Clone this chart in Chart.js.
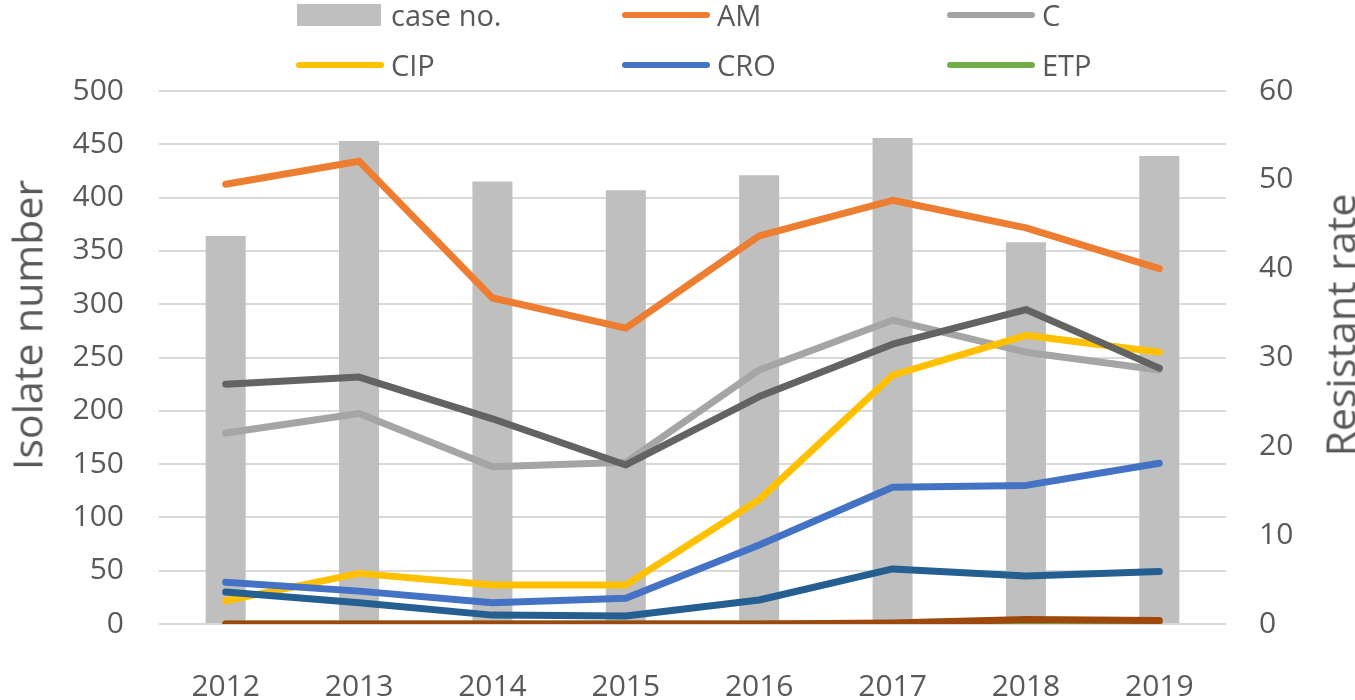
<!DOCTYPE html>
<html>
<head>
<meta charset="utf-8">
<title>Isolate number and resistant rate</title>
<script src="https://cdn.jsdelivr.net/npm/chart.js@4.4.0/dist/chart.umd.min.js"></script>
<style>
  body { margin: 0; background: #fff; overflow: hidden; }
  #wrap { position: relative; width: 1355px; height: 700px; font-family: 'Open Sans', sans-serif; color: #595959; }
  #chart { position: absolute; left: 0; top: 0; }
  .axis-title { position: absolute; font-size: 41px; line-height: 1; white-space: nowrap; transform: translate(-50%, -50%) rotate(-90deg); }
  .lg-text { position: absolute; font-size: 29px; line-height: 1; white-space: nowrap; }
  .lg-swatch { position: absolute; }
</style>
</head>
<body>
<div id="wrap">
  <canvas id="chart" width="1355" height="700"></canvas>
  <div id="legend"></div>
  <div class="axis-title" id="left-title" style="left:27px; top:325px;"></div>
  <div class="axis-title" id="right-title" style="left:1340px; top:325px;"></div>
</div>
<script>
// ---- data ----
const years = ['2012', '2013', '2014', '2015', '2016', '2017', '2018', '2019'];
const caseNo = [364, 453, 415, 407, 421, 456, 358, 439];      // left axis
const amRate = [49.5, 52.1, 36.7, 33.3, 43.7, 47.7, 44.6, 40.0]; // right axis (%)
const cRate = [21.5, 23.7, 17.7, 18.2, 28.6, 34.2, 30.6, 28.6];
const cipRate = [2.6, 5.7, 4.4, 4.4, 14.0, 28.0, 32.5, 30.6];
const croRate = [4.7, 3.7, 2.4, 2.9, 8.9, 15.4, 15.6, 18.1];
const etpRate = [0, 0, 0, 0, 0, 0, 0, 0];
// three more lines drawn in the picture whose legend rows are cut off
const series7Rate = [3.6, 2.4, 1.0, 0.9, 2.7, 6.2, 5.4, 5.9];
const series8Rate = [0, 0, 0, 0, 0, 0.1, 0.5, 0.4];
const series9Rate = [27.0, 27.8, 23.1, 17.9, 25.6, 31.5, 35.4, 28.8];

const leftMax = 500, leftStep = 50;
const rightMax = 60, rightStep = 10;
const leftTitle = 'Isolate number';
const rightTitle = 'Resistant rate';

// line series: label, values, colour, shown in legend
const lineSeries = [
  { label: 'AM', data: amRate, color: '#ED7D31', legend: true },
  { label: 'C', data: cRate, color: '#A5A5A5', legend: true },
  { label: 'CIP', data: cipRate, color: '#FFC000', legend: true },
  { label: 'CRO', data: croRate, color: '#4472C4', legend: true },
  { label: 'ETP', data: etpRate, color: '#70AD47', legend: true },
  { label: 'Series 7', data: series7Rate, color: '#255E91', legend: false },
  { label: 'Series 8', data: series8Rate, color: '#9E480E', legend: false },
  { label: 'Series 9', data: series9Rate, color: '#636363', legend: false }
];
const barColor = '#BFBFBF';
const gridColor = '#D9D9D9';
const textColor = '#595959';

Chart.defaults.font.family = "'Open Sans', sans-serif";
Chart.defaults.color = textColor;

// later series on top, like the spreadsheet
const datasets = [{
  type: 'bar',
  label: 'case no.',
  data: caseNo,
  backgroundColor: barColor,
  yAxisID: 'y',
  barPercentage: 0.3,
  categoryPercentage: 1,
  order: 100
}];
lineSeries.forEach((s, i) => {
  datasets.push({
    type: 'line',
    label: s.label,
    data: s.data,
    borderColor: s.color,
    backgroundColor: s.color,
    borderWidth: 7,
    borderCapStyle: 'round',
    borderJoinStyle: 'round',
    pointRadius: 0,
    tension: 0,
    yAxisID: 'y1',
    order: 50 - i
  });
});

new Chart(document.getElementById('chart'), {
  data: { labels: years, datasets: datasets },
  options: {
    responsive: false,
    animation: false,
    layout: { padding: { top: 91, left: 0, right: 0, bottom: 0 } },
    plugins: { legend: { display: false }, tooltip: { enabled: false } },
    scales: {
      x: {
        grid: { display: false, drawTicks: false },
        border: { display: false },
        ticks: { font: { size: 30 }, color: textColor, padding: 45 },
        afterFit: s => { s.height = 76; }
      },
      y: {
        position: 'left',
        min: 0, max: leftMax,
        grid: { color: gridColor, lineWidth: 2, drawTicks: false },
        border: { display: false },
        ticks: { stepSize: leftStep, font: { size: 30 }, color: textColor, padding: 35 },
        afterFit: s => { s.width = 159; }
      },
      y1: {
        position: 'right',
        min: 0, max: rightMax,
        grid: { display: false, drawTicks: false },
        border: { display: false },
        ticks: { stepSize: rightStep, font: { size: 30 }, color: textColor, padding: 33 },
        afterFit: s => { s.width = 129; }
      }
    }
  }
});

// axis titles
document.getElementById('left-title').textContent = leftTitle;
document.getElementById('right-title').textContent = rightTitle;

// legend: 3 columns x 2 rows
const legendItems = [{ label: 'case no.', color: barColor, box: true }]
  .concat(lineSeries.filter(s => s.legend).map(s => ({ label: s.label, color: s.color, box: false })));
const colX = [296, 622, 947];
const rowY = [15, 65];
const legend = document.getElementById('legend');
legendItems.forEach((item, i) => {
  const cx = colX[i % 3], cy = rowY[Math.floor(i / 3)];
  const sw = document.createElement('div');
  sw.className = 'lg-swatch';
  if (item.box) {
    sw.style.cssText = `left:${cx + 1}px;top:${cy - 11}px;width:84px;height:22px;background:${item.color};`;
  } else {
    sw.style.cssText = `left:${cx}px;top:${cy - 3}px;width:88px;height:6px;border-radius:3px;background:${item.color};`;
  }
  legend.appendChild(sw);
  const tx = document.createElement('div');
  tx.className = 'lg-text';
  tx.style.left = (cx + 95) + 'px';
  tx.style.top = (cy - 15) + 'px';
  tx.textContent = item.label;
  legend.appendChild(tx);
});
</script>
</body>
</html>
